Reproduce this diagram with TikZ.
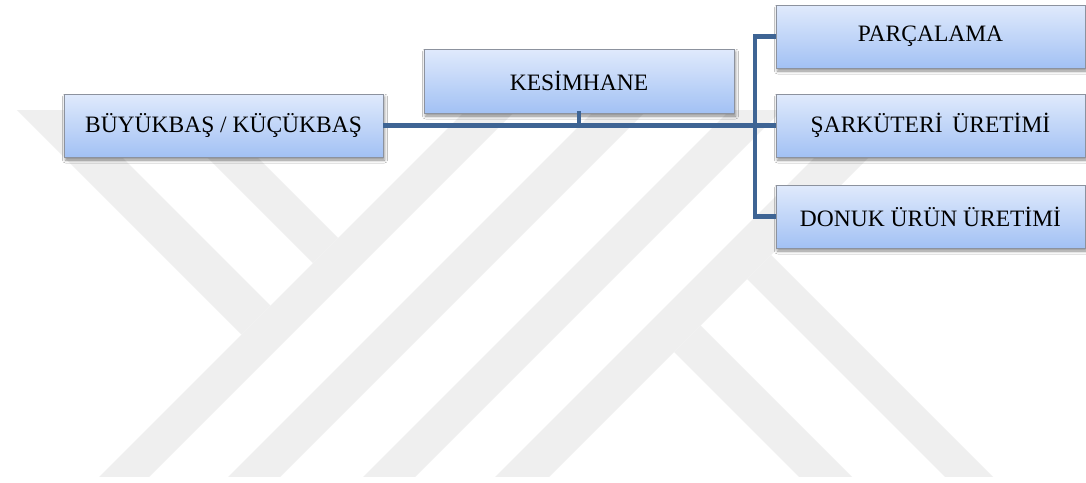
\documentclass[tikz,border=0pt]{standalone}
\usepackage{fontspec}
\setmainfont{Liberation Serif}
\usetikzlibrary{shadows.blur}
\definecolor{wmgray}{RGB}{239,239,239}
\definecolor{linkblue}{RGB}{62,100,148}
\definecolor{boxtop}{RGB}{224,234,252}
\definecolor{boxbottom}{RGB}{162,193,244}
\definecolor{boxedge}{RGB}{140,146,158}
\newcommand{\boxfont}{\fontsize{23.5}{27}\selectfont}
\tikzset{
  unitbox/.style={draw=boxedge, line width=0.8pt,
    top color=boxtop, bottom color=boxbottom,
    minimum height=63, inner sep=0pt, font=\boxfont, text=black,
    blur shadow={shadow xshift=1.5pt, shadow yshift=-3pt,
                 shadow blur radius=3pt, shadow opacity=45}},
  hlink/.style={draw=linkblue, line width=5.5pt},
  vlink/.style={draw=linkblue, line width=4pt, line cap=rect},
  band/.style={fill=wmgray, draw=none}
}
\begin{document}
\begin{tikzpicture}[x=1pt, y=-1pt]
  \useasboundingbox (0,0) rectangle (1086,482);
  \fill[white] (0,0) rectangle (1086,482);

  % faint background emblem made of diagonal bands
  \begin{scope}
    \clip (0,110) rectangle (1086,476);
    \fill[band] (-20,73) -- (38,73) -- (270.5,305.5) -- (241.5,334.5) -- cycle;
    \fill[band] (123,73) -- (173,73) -- (338,238) -- (313,263) -- cycle;
    \fill[band] (503,73) -- (553,73) -- (136,490) -- (86,490) -- cycle;
    \fill[band] (632,73) -- (684,73) -- (267,490) -- (215,490) -- cycle;
    \fill[band] (767,73) -- (819,73) -- (402,490) -- (350,490) -- cycle;
    \fill[band] (899,73) -- (953,73) -- (536,490) -- (482,490) -- cycle;
    \fill[band] (674,352) -- (700.5,325.5) -- (865,490) -- (812,490) -- cycle;
    \fill[band] (747,279) -- (771,255) -- (1006,490) -- (958,490) -- cycle;
  \end{scope}

  % units
  \node[unitbox, minimum width=319] (bk)  at (223.5,125.5) {BÜYÜKBAŞ / KÜÇÜKBAŞ};
  \node[unitbox, minimum width=310, minimum height=64] (kes) at (579,81) {KESİMHANE};
  \node[unitbox, minimum width=309] (par) at (930.5,36.5)  {PARÇALAMA};
  \node[unitbox, minimum width=309] (sar) at (930.5,125.5) {ŞARKÜTERİ\, ÜRETİMİ};
  \node[unitbox, minimum width=309] (don) at (930.5,216.5) {DONUK ÜRÜN ÜRETİMİ};

  % connectors
  \coordinate (bus) at (755,125.5);
  \draw[vlink] (kes.south) -- (kes.south |- bk.east);
  \draw[hlink] (bk.east) -- (bus -| sar.west);
  \draw[vlink] (bus |- par.west) -- (bus |- don.west);
  \draw[hlink] ([xshift=-2pt]bus |- par.west) -- (par.west);
  \draw[hlink] ([xshift=-2pt]bus |- don.west) -- (don.west);
\end{tikzpicture}
\end{document}
